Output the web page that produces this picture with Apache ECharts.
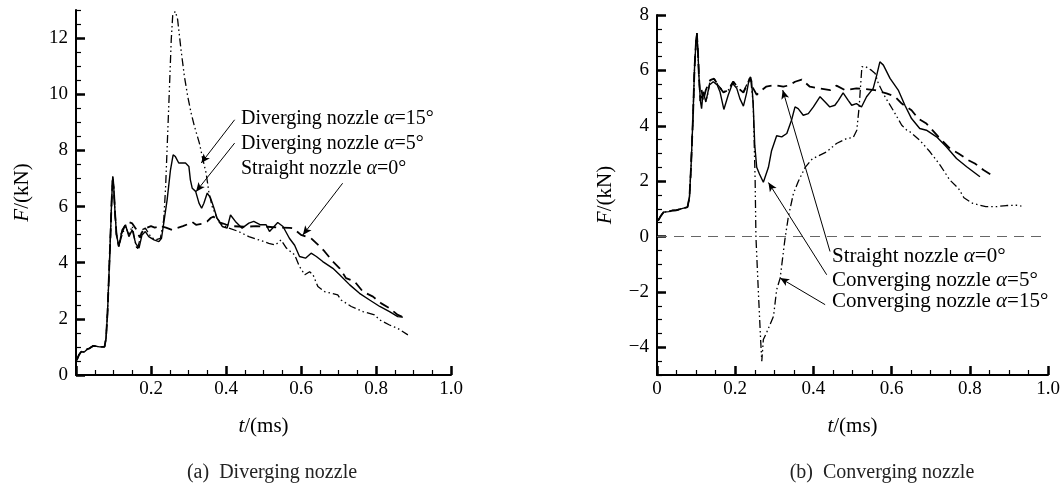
<!DOCTYPE html>
<html>
<head>
<meta charset="utf-8">
<script src="https://cdn.jsdelivr.net/npm/echarts@6/dist/echarts.min.js"></script>
<style>
  html, body { margin: 0; padding: 0; background: #fff; }
  #chart { width: 1064px; height: 486px; }
</style>
</head>
<body>
<div id="chart"></div>
<script>
// ---- data: [t (ms), F (kN)] ----
const leftStart = [[0.002,0.53],[0.008,0.72],[0.014,0.83],[0.022,0.82],[0.03,0.92],[0.036,0.95],[0.046,1.04],[0.055,1.02],[0.063,1.0],[0.076,1.0],[0.08,1.3],[0.084,2.2],[0.088,3.6],[0.092,5.0],[0.095,6.2],[0.098,7.07],[0.101,6.6],[0.104,5.8],[0.108,5.0],[0.114,4.58]]

const divStraight = [[0.12,5.0],[0.13,5.3],[0.14,5.45],[0.15,5.4],[0.16,5.2],[0.17,4.9],[0.18,5.2],[0.19,5.25],[0.2,5.3],[0.21,5.25],[0.225,5.3],[0.24,5.25],[0.256,5.17],[0.27,5.24],[0.285,5.3],[0.3,5.38],[0.31,5.45],[0.32,5.35],[0.335,5.38],[0.35,5.47],[0.36,5.6],[0.367,5.64],[0.38,5.45],[0.4,5.36],[0.42,5.3],[0.45,5.28],[0.48,5.3],[0.51,5.28],[0.54,5.25],[0.57,5.24],[0.58,5.22],[0.6,4.99],[0.627,4.87],[0.65,4.58],[0.663,4.4],[0.685,4.04],[0.703,3.8],[0.72,3.45],[0.743,3.33],[0.765,2.97],[0.792,2.79],[0.814,2.55],[0.836,2.38],[0.858,2.14],[0.873,2.06]]

const div5 = [[0.123,5.17],[0.132,5.35],[0.141,4.93],[0.15,5.17],[0.159,4.69],[0.168,4.52],[0.176,4.99],[0.185,5.11],[0.194,4.93],[0.208,4.81],[0.221,4.75],[0.228,4.87],[0.234,5.41],[0.243,6.24],[0.252,7.31],[0.259,7.84],[0.265,7.78],[0.274,7.55],[0.292,7.55],[0.301,7.43],[0.305,6.95],[0.31,6.65],[0.319,6.54],[0.328,6.12],[0.335,5.94],[0.341,6.12],[0.35,6.48],[0.359,6.3],[0.368,5.94],[0.376,5.59],[0.39,5.29],[0.403,5.23],[0.412,5.7],[0.425,5.47],[0.443,5.23],[0.461,5.41],[0.474,5.47],[0.492,5.35],[0.507,5.35],[0.516,5.11],[0.538,5.43],[0.552,5.29],[0.569,4.87],[0.583,4.62],[0.596,4.22],[0.612,4.16],[0.627,4.34],[0.641,4.22],[0.658,4.04],[0.685,3.8],[0.703,3.57],[0.73,3.21],[0.756,2.91],[0.783,2.67],[0.81,2.44],[0.836,2.26],[0.858,2.08],[0.872,2.06]]

const div15 = [[0.123,5.0],[0.132,5.29],[0.141,5.0],[0.15,5.3],[0.157,4.8],[0.163,4.46],[0.17,4.8],[0.176,5.17],[0.185,5.23],[0.199,4.93],[0.212,4.81],[0.225,4.87],[0.234,5.53],[0.239,6.71],[0.248,9.8],[0.254,11.94],[0.258,12.83],[0.265,12.95],[0.271,12.66],[0.28,11.59],[0.289,10.64],[0.298,9.92],[0.307,9.33],[0.316,8.85],[0.329,8.26],[0.338,7.7],[0.347,7.19],[0.354,6.54],[0.363,6.0],[0.376,5.59],[0.39,5.35],[0.408,5.23],[0.434,5.11],[0.461,4.93],[0.488,4.81],[0.514,4.69],[0.532,4.63],[0.547,4.81],[0.561,4.52],[0.583,4.28],[0.596,3.86],[0.61,3.57],[0.623,3.68],[0.632,3.57],[0.645,3.15],[0.663,2.97],[0.681,2.91],[0.698,2.85],[0.707,2.67],[0.734,2.44],[0.765,2.26],[0.796,2.14],[0.81,1.96],[0.836,1.78],[0.858,1.66],[0.885,1.43]]

const rightStart = [[0.003,0.58],[0.01,0.75],[0.017,0.88],[0.03,0.9],[0.039,0.94],[0.05,0.95],[0.061,1.0],[0.078,1.06],[0.083,1.42],[0.087,2.5],[0.092,4.3],[0.096,6.1],[0.1,7.1],[0.102,7.35],[0.105,6.6],[0.107,5.86],[0.111,4.9]]

const conStraight = [[0.114,5.3],[0.118,4.9],[0.125,5.3],[0.136,5.65],[0.146,5.7],[0.156,5.47],[0.17,5.2],[0.182,5.29],[0.195,5.6],[0.208,5.35],[0.221,5.2],[0.233,5.55],[0.239,5.75],[0.246,5.35],[0.255,5.12],[0.263,5.23],[0.279,5.41],[0.302,5.47],[0.323,5.41],[0.34,5.47],[0.353,5.59],[0.37,5.67],[0.391,5.41],[0.413,5.35],[0.443,5.29],[0.459,5.45],[0.481,5.29],[0.51,5.35],[0.53,5.33],[0.557,5.29],[0.587,5.17],[0.609,5.05],[0.626,4.8],[0.651,4.56],[0.668,4.26],[0.689,4.08],[0.72,3.6],[0.749,3.18],[0.771,3.0],[0.796,2.76],[0.813,2.64],[0.835,2.4],[0.856,2.22]]

const con5 = [[0.114,4.62],[0.118,5.23],[0.125,4.86],[0.134,5.47],[0.144,5.59],[0.154,5.47],[0.161,5.23],[0.171,4.59],[0.182,5.1],[0.193,5.53],[0.204,5.35],[0.212,4.98],[0.221,4.71],[0.229,5.17],[0.236,5.71],[0.242,5.59],[0.246,4.8],[0.25,3.3],[0.255,2.5],[0.262,2.26],[0.272,1.96],[0.285,2.5],[0.293,3.1],[0.306,3.64],[0.319,3.6],[0.332,3.72],[0.344,4.2],[0.353,4.68],[0.361,4.62],[0.374,4.38],[0.387,4.44],[0.4,4.68],[0.417,5.05],[0.43,4.86],[0.442,4.68],[0.455,4.74],[0.464,4.92],[0.476,5.19],[0.489,4.92],[0.498,4.74],[0.51,4.8],[0.523,4.68],[0.536,5.05],[0.553,5.35],[0.562,5.83],[0.57,6.31],[0.579,6.19],[0.596,5.71],[0.617,5.29],[0.634,4.74],[0.651,4.26],[0.672,3.9],[0.689,3.84],[0.715,3.6],[0.74,3.24],[0.766,2.82],[0.792,2.52],[0.826,2.16]]

const con15 = [[0.114,4.9],[0.12,5.2],[0.128,5.0],[0.136,5.65],[0.146,5.7],[0.156,5.47],[0.17,5.23],[0.182,5.29],[0.195,5.59],[0.208,5.35],[0.221,5.23],[0.233,5.59],[0.239,5.77],[0.246,4.8],[0.251,2.04],[0.253,0],[0.259,-1.92],[0.265,-3.72],[0.268,-4.5],[0.272,-3.72],[0.28,-3.48],[0.298,-2.88],[0.306,-1.92],[0.315,-1.5],[0.327,-0.12],[0.336,0.72],[0.349,1.56],[0.361,1.98],[0.379,2.5],[0.397,2.8],[0.408,2.88],[0.434,3.06],[0.459,3.36],[0.485,3.54],[0.502,3.58],[0.511,3.84],[0.517,4.68],[0.524,6.13],[0.532,6.15],[0.549,6.0],[0.558,5.89],[0.566,5.53],[0.583,5.05],[0.604,4.56],[0.626,4.02],[0.639,3.84],[0.647,3.78],[0.672,3.48],[0.698,3.06],[0.724,2.58],[0.749,2.04],[0.771,1.74],[0.785,1.4],[0.807,1.2],[0.841,1.08],[0.868,1.08],[0.894,1.12],[0.919,1.13],[0.932,1.1]]

const leftYTicks = [0, 2, 4, 6, 8, 10, 12]
const rightYTicks = [-4, -2, 0, 2, 4, 6, 8]

// annotation arrows: [from, to] in data coords
const leftArrows = [[[0.423, 9.09], [0.334, 7.55]], [[0.423, 8.26], [0.32, 6.53]], [[0.711, 6.83], [0.605, 4.99]]]
const rightArrows = [[[0.4425, -0.54], [0.3215, 5.29]], [[0.434, -1.38], [0.285, 1.95]], [[0.43, -2.46], [0.315, -1.5]]]

const FONT = 'Liberation Serif'
const chart = echarts.init(document.getElementById('chart'))

const DASH = [10, 6]
const DASHDOT = [8, 3, 1.5, 3, 1.5, 3]

const majorTick = () => ({ show: true, inside: true, length: 9, lineStyle: { color: '#000', width: 2.5 } })
const minorTick = () => ({ show: true, inside: true, length: 5, lineStyle: { color: '#000', width: 1.2 } })
const nameStyle = () => ({ fontFamily: FONT, fontSize: 21, color: '#000', rich: { i: { fontStyle: 'italic', fontFamily: FONT, fontSize: 21 } } })

function xMajor(gridIndex, showZero) {
  return {
    type: 'value', gridIndex, min: 0, max: 1, interval: 0.2,
    name: '{i|t}/(ms)', nameLocation: 'middle', nameGap: 41, nameTextStyle: nameStyle(),
    axisLine: { show: true, onZero: false, lineStyle: { color: '#000', width: 2 } },
    axisTick: majorTick(),
    splitLine: { show: false },
    axisLabel: {
      show: true, margin: 5, fontFamily: FONT, fontSize: 19, color: '#000',
      formatter: v => v === 0 ? (showZero ? '0' : '') : v.toFixed(1)
    }
  }
}

function xMinor(gridIndex) {
  return {
    type: 'value', gridIndex, min: 0, max: 1, interval: 0.05, position: 'bottom',
    axisLine: { show: false, onZero: false },
    axisTick: minorTick(),
    axisLabel: { show: false },
    splitLine: { show: false }
  }
}

function yMajor(gridIndex, min, max, ticks, gap) {
  const tick = majorTick()
  tick.customValues = ticks
  return {
    type: 'value', gridIndex, min, max, position: 'left',
    name: '{i|F}/(kN)', nameLocation: 'middle', nameGap: gap, nameRotate: 90, nameTextStyle: nameStyle(),
    axisLine: { show: true, onZero: false, lineStyle: { color: '#000', width: 2 } },
    axisTick: tick,
    axisLabel: {
      show: true, margin: 8, fontFamily: FONT, fontSize: 19, color: '#000', customValues: ticks,
      formatter: v => v < 0 ? '\u2212' + Math.abs(v) : String(v)
    },
    splitLine: { show: false }
  }
}

function yMinor(gridIndex, min, max) {
  return {
    type: 'value', gridIndex, min, max, interval: 0.5, position: 'left',
    axisLine: { show: false, onZero: false },
    axisTick: minorTick(),
    axisLabel: { show: false },
    splitLine: { show: false }
  }
}

function arrowLine(arrows) {
  return {
    silent: true, symbol: ['none', 'arrow'], symbolSize: [6, 9],
    lineStyle: { color: '#000', width: 1, type: 'solid' },
    label: { show: false },
    data: arrows.map(a => [{ coord: a[0] }, { coord: a[1] }])
  }
}

function line(name, data, type, width, xi, yi, extra) {
  return Object.assign({
    name, type: 'line', data, xAxisIndex: xi, yAxisIndex: yi,
    showSymbol: false, symbol: 'none', animation: false,
    lineStyle: { color: '#000', width, type }
  }, extra || {})
}

function note(text, x, y, size) {
  return {
    type: 'text', x, y,
    style: {
      text, fill: '#000', fontFamily: FONT, fontSize: size, verticalAlign: 'middle',
      rich: { i: { fontStyle: 'italic', fontFamily: FONT, fontSize: size } }
    }
  }
}

chart.setOption({
  animation: false,
  grid: [
    { left: 76, top: 10, width: 375, height: 365 },
    { left: 657, top: 15, width: 391, height: 360 }
  ],
  xAxis: [xMajor(0, false), xMinor(0), xMajor(1, true), xMinor(1)],
  yAxis: [
    yMajor(0, 0, 13, leftYTicks, 43),
    yMinor(0, 0, 13),
    yMajor(1, -5, 8, rightYTicks, 41),
    yMinor(1, -5, 8)
  ],
  series: [
    line('Straight nozzle α=0°', leftStart.concat(divStraight), DASH, 1.8, 0, 0, { markLine: arrowLine(leftArrows) }),
    line('Diverging nozzle α=5°', leftStart.concat(div5), 'solid', 1.4, 0, 0),
    line('Diverging nozzle α=15°', leftStart.concat(div15), DASHDOT, 1.3, 0, 0),
    line('Straight nozzle α=0°', rightStart.concat(conStraight), DASH, 1.8, 2, 2, {
      markLine: {
        silent: true, symbol: 'none', label: { show: false },
        lineStyle: { color: '#666', width: 1, type: [10, 7] },
        data: [{ yAxis: 0 }]
      }
    }),
    line('Converging nozzle α=5°', rightStart.concat(con5), 'solid', 1.4, 2, 2, { markLine: arrowLine(rightArrows) }),
    line('Converging nozzle α=15°', rightStart.concat(con15), DASHDOT, 1.3, 2, 2)
  ],
  graphic: [
    note('Diverging nozzle {i|α}=15°', 241, 118.3, 20),
    note('Diverging nozzle {i|α}=5°', 241, 143.3, 20),
    note('Straight nozzle {i|α}=0°', 241, 168.3, 20),
    note('Straight nozzle {i|α}=0°', 832, 256.7, 21),
    note('Converging nozzle {i|α}=5°', 832, 280, 21),
    note('Converging nozzle {i|α}=15°', 832, 301.7, 21),
    { type: 'text', x: 272, y: 473, style: { text: '(a)  Diverging nozzle', fill: '#222', fontFamily: FONT, fontSize: 20, align: 'center', verticalAlign: 'middle' } },
    { type: 'text', x: 882, y: 473, style: { text: '(b)  Converging nozzle', fill: '#222', fontFamily: FONT, fontSize: 20, align: 'center', verticalAlign: 'middle' } }
  ]
})
</script>
</body>
</html>
